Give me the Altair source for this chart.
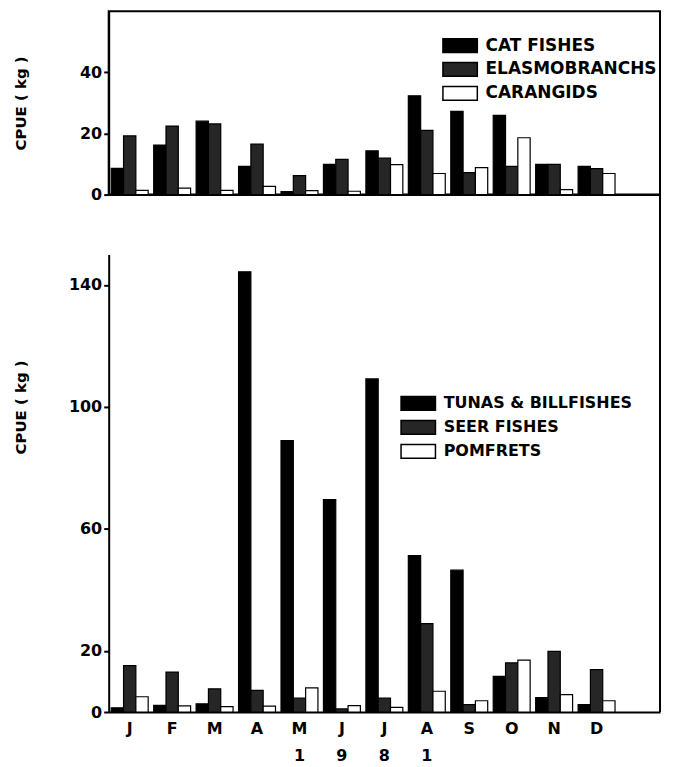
import altair as alt
import pandas as pd

months = ["Jan", "Feb", "Mar", "Apr", "May", "Jun", "Jul", "Aug", "Sep", "Oct", "Nov", "Dec"]
month_letters = ["J", "F", "M", "A", "M", "J", "J", "A", "S", "O", "N", "D"]
year_digits = ["", "", "", "", "1", "9", "8", "1", "", "", "", ""]

top_series = ["CAT FISHES", "ELASMOBRANCHS", "CARANGIDS"]
cat_fishes = [8.6, 16.2, 24.0, 9.2, 1.0, 9.9, 14.3, 32.3, 27.2, 25.9, 9.9, 9.2]
elasmobranchs = [19.2, 22.4, 23.1, 16.5, 6.2, 11.5, 11.9, 21.0, 7.2, 9.2, 9.9, 8.5]
carangids = [1.4, 2.1, 1.4, 2.7, 1.3, 1.1, 9.8, 6.9, 8.8, 18.6, 1.6, 6.9]

bottom_series = ["TUNAS & BILLFISHES", "SEER FISHES", "POMFRETS"]
tunas = [1.4, 2.2, 2.7, 144.3, 89.0, 69.6, 109.2, 51.3, 46.5, 11.7, 4.7, 2.4]
seer = [15.2, 13.1, 7.6, 7.1, 4.6, 1.0, 4.6, 29.0, 2.4, 16.1, 19.9, 13.9]
pomfrets = [5.0, 2.0, 1.8, 1.9, 7.9, 2.1, 1.5, 6.8, 3.7, 17.0, 5.7, 3.7]

fills = ["#000000", "#262626", "#ffffff"]


def long_table(series_names, series_values):
    rows = []
    for name, vals in zip(series_names, series_values):
        for m, v in zip(months, vals):
            rows.append({"month": m, "series": name, "value": v})
    return pd.DataFrame(rows)


df_top = long_table(top_series, [cat_fishes, elasmobranchs, carangids])
df_bot = long_table(bottom_series, [tunas, seer, pomfrets])

W = 553
H_TOP = 184
H_BOT = 459
FONT = "DejaVu Sans"

x_domain = months + [""]
x_scale = alt.Scale(domain=x_domain, paddingInner=0.13, paddingOuter=0.06)


def js_list(lst):
    return "[" + ",".join("'" + s + "'" for s in lst) + "]"


label_items = []
for letter, digit in zip(month_letters, year_digits):
    if digit:
        label_items.append("['" + letter + "','" + digit + "']")
    else:
        label_items.append("'" + letter + "'")
label_items.append("''")
label_expr = "[" + ",".join(label_items) + "][indexof(" + js_list(x_domain) + ", datum.value)]"

sym_path = "M-1.5,-0.6H1.5V0.6H-1.5Z"

axis_common = dict(
    domainColor="black", domainWidth=2, tickColor="black", tickWidth=2, tickSize=5,
    labelFont=FONT, labelFontWeight="bold", labelFontSize=16, labelColor="black",
    labelPadding=2, grid=False,
    titleFont=FONT, titleFontWeight="bold", titleFontSize=15, titleColor="black",
    titleX=-88, titleBaseline="middle", titleAngle=270,
)


def legend_opts(size):
    return dict(
        title=None, orient="none", symbolType=sym_path, symbolSize=529,
        symbolStrokeColor="black", symbolStrokeWidth=1.5,
        labelFont=FONT, labelFontWeight="bold", labelFontSize=size, labelColor="black",
        labelLimit=400, rowPadding=1, labelOffset=13, padding=0,
    )


top = alt.Chart(df_top).mark_bar(stroke="black", strokeWidth=1.2).encode(
    x=alt.X("month:N", scale=x_scale,
            axis=alt.Axis(labels=False, ticks=False, title=None, domainColor="black", domainWidth=2)),
    xOffset=alt.XOffset("series:N", scale=alt.Scale(domain=top_series, paddingInner=0, paddingOuter=0)),
    y=alt.Y("value:Q", scale=alt.Scale(domain=[0, 60], nice=False),
            axis=alt.Axis(values=[0, 20, 40], title="CPUE   ( kg )", titleY=H_TOP / 2, **axis_common)),
    fill=alt.Fill("series:N", scale=alt.Scale(domain=top_series, range=fills),
                  legend=alt.Legend(legendX=340, legendY=22, **legend_opts(17))),
).properties(width=W, height=H_TOP, view=alt.ViewBackground(stroke="black", strokeWidth=2))

bars_bot = alt.Chart(df_bot).mark_bar(stroke="black", strokeWidth=1.2).encode(
    x=alt.X("month:N", scale=x_scale,
            axis=alt.Axis(labelExpr=label_expr, ticks=False, title=None, domainColor="black", domainWidth=2,
                          labelFont=FONT, labelFontWeight="bold", labelFontSize=16, labelColor="black",
                          labelPadding=9, labelLineHeight=27, labelAngle=0)),
    xOffset=alt.XOffset("series:N", scale=alt.Scale(domain=bottom_series, paddingInner=0, paddingOuter=0)),
    y=alt.Y("value:Q", scale=alt.Scale(domain=[0, 150], nice=False),
            axis=alt.Axis(values=[0, 20, 60, 100, 140], title="CPUE   ( kg )", titleY=153, **axis_common)),
    fill=alt.Fill("series:N", scale=alt.Scale(domain=bottom_series, range=fills),
                  legend=alt.Legend(legendX=298, legendY=137, **legend_opts(16))),
)

frame = alt.Chart(alt.Data(values=[{}])).mark_rule(stroke="black", strokeWidth=2).encode(
    x=alt.value("width"), y=alt.value(-60), y2=alt.value("height")
)

bottom = alt.layer(bars_bot, frame).properties(
    width=W, height=H_BOT, view=alt.ViewBackground(stroke=None)
)

chart = alt.vconcat(top, bottom, spacing=60, bounds="flush").resolve_scale(
    fill="independent", xOffset="independent"
).properties(
    padding={"left": 5, "top": 1, "right": 5, "bottom": 5}
).configure_view(stroke=None).configure(background="white")

chart.save("out.html", embed_options={"renderer": "svg", "actions": False})
